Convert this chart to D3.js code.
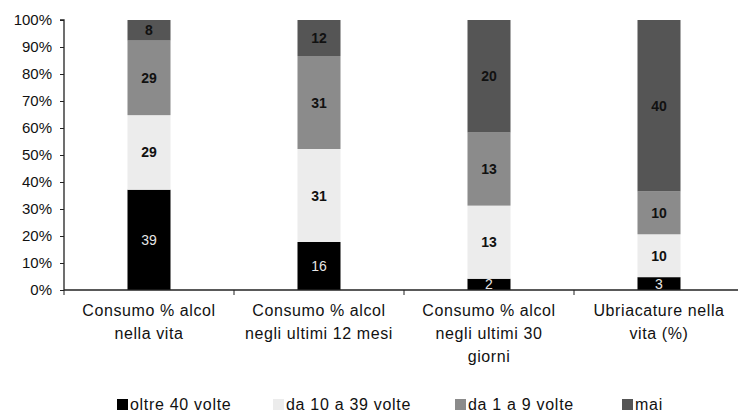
<!DOCTYPE html>
<html>
<head>
<meta charset="utf-8">
<script src="https://cdn.jsdelivr.net/npm/d3@7"></script>
<style>
  body { margin: 0; background: #fff; }
  svg { font-family: "Liberation Sans", Arial, sans-serif; }
</style>
</head>
<body>
<div id="chart"></div>
<script>
const categories = [
  ["Consumo % alcol", "nella vita"],
  ["Consumo % alcol", "negli ultimi 12 mesi"],
  ["Consumo % alcol", "negli ultimi 30", "giorni"],
  ["Ubriacature nella", "vita (%)"]
];
const seriesNames = ["oltre 40 volte", "da 10 a 39 volte", "da 1 a 9 volte", "mai"];
const oltre40 = [39, 16, 2, 3];
const da10a39 = [29, 31, 13, 10];
const da1a9 = [29, 31, 13, 10];
const mai = [8, 12, 20, 40];
const yTicks = [0, 0.1, 0.2, 0.3, 0.4, 0.5, 0.6, 0.7, 0.8, 0.9, 1];

const colors = ["#000000", "#ececec", "#8b8b8b", "#555555"];
const labelColors = ["#e6e6e6", "#111", "#111", "#111"];

const width = 738, height = 414,
      margin = {top: 20, right: -6, bottom: 124, left: 64};

const rows = categories.map((c, i) => ({
  key: i,
  [seriesNames[0]]: oltre40[i],
  [seriesNames[1]]: da10a39[i],
  [seriesNames[2]]: da1a9[i],
  [seriesNames[3]]: mai[i]
}));

const stack = d3.stack().keys(seriesNames).offset(d3.stackOffsetExpand);
const layers = stack(rows);

const x = d3.scaleBand()
  .domain(d3.range(categories.length))
  .range([margin.left, width - margin.right])
  .paddingInner(0.747).paddingOuter(0.3735);

const y = d3.scaleLinear()
  .domain([0, 1])
  .range([height - margin.bottom, margin.top]);

const svg = d3.select('#chart')
  .append('svg')
    .attr('width', width)
    .attr('height', height);

// bars
const layer = svg.selectAll('g.layer')
  .data(layers)
  .enter()
  .append('g')
    .attr('class', 'layer')
    .attr('fill', (d, i) => colors[i]);

layer.selectAll('rect')
  .data(d => d)
  .enter()
  .append('rect')
    .attr('x', (d, i) => x(i))
    .attr('y', d => y(d[1]))
    .attr('width', x.bandwidth())
    .attr('height', d => y(d[0]) - y(d[1]));

// value labels
layers.forEach((l, si) => {
  svg.append('g')
    .selectAll('text')
    .data(l)
    .enter()
    .append('text')
      .attr('x', (d, i) => x(i) + x.bandwidth() / 2)
      .attr('y', d => (y(d[0]) + y(d[1])) / 2)
      .attr('dy', '0.36em')
      .attr('text-anchor', 'middle')
      .attr('font-size', 14)
      .attr('font-weight', si === 0 ? 'normal' : 'bold')
      .attr('fill', labelColors[si])
      .text((d, i) => d.data[seriesNames[si]]);
});

// y axis
const yAxis = d3.axisLeft(y)
  .tickValues(yTicks)
  .tickFormat(d3.format('.0%'))
  .tickSize(4)
  .tickPadding(8);

svg.append('g')
  .attr('transform', 'translate(' + margin.left + ',0)')
  .call(yAxis)
  .call(g => g.select('.domain').attr('stroke', '#222').attr('stroke-width', 1.3).attr('d', 'M-4,' + y(1) + 'H0V' + y(0)))
  .call(g => g.selectAll('.tick line').attr('stroke', '#222'))
  .call(g => g.selectAll('.tick text').attr('font-size', 15).attr('fill', '#111'));

// x axis
const xBase = d3.scaleLinear()
  .domain([0, categories.length])
  .range([margin.left, width - margin.right]);

const xg = svg.append('g')
  .attr('transform', 'translate(0,' + y(0) + ')');

xg.append('line')
  .attr('x1', margin.left).attr('x2', width)
  .attr('stroke', '#222').attr('stroke-width', 1.3);

xg.selectAll('line.tick')
  .data(d3.range(categories.length))
  .enter()
  .append('line')
    .attr('class', 'tick')
    .attr('x1', d => xBase(d)).attr('x2', d => xBase(d))
    .attr('y1', 0).attr('y2', 5)
    .attr('stroke', '#222');

xg.selectAll('text')
  .data(categories)
  .enter()
  .append('text')
    .attr('text-anchor', 'middle')
    .attr('font-size', 16)
    .attr('letter-spacing', 0.6)
    .attr('fill', '#111')
    .attr('transform', (d, i) => 'translate(' + (x(i) + x.bandwidth() / 2) + ',0)')
    .selectAll('tspan')
    .data(d => d)
    .enter()
    .append('tspan')
      .attr('x', 0)
      .attr('y', (d, j) => 26 + j * 23)
      .text(d => d);

// legend
const legendX = [117, 273, 455, 622];
const lg = svg.append('g')
  .attr('transform', 'translate(0,' + 404 + ')');

const item = lg.selectAll('g')
  .data(seriesNames)
  .enter()
  .append('g')
    .attr('transform', (d, i) => 'translate(' + legendX[i] + ',0)');

item.append('rect')
  .attr('x', 0).attr('y', -5)
  .attr('width', 11).attr('height', 11)
  .attr('fill', (d, i) => colors[i]);

item.append('text')
  .attr('x', 13)
  .attr('y', 0)
  .attr('dy', '0.36em')
  .attr('font-size', 16)
  .attr('letter-spacing', 0.7)
  .attr('fill', '#111')
  .text(d => d);
</script>
</body>
</html>
